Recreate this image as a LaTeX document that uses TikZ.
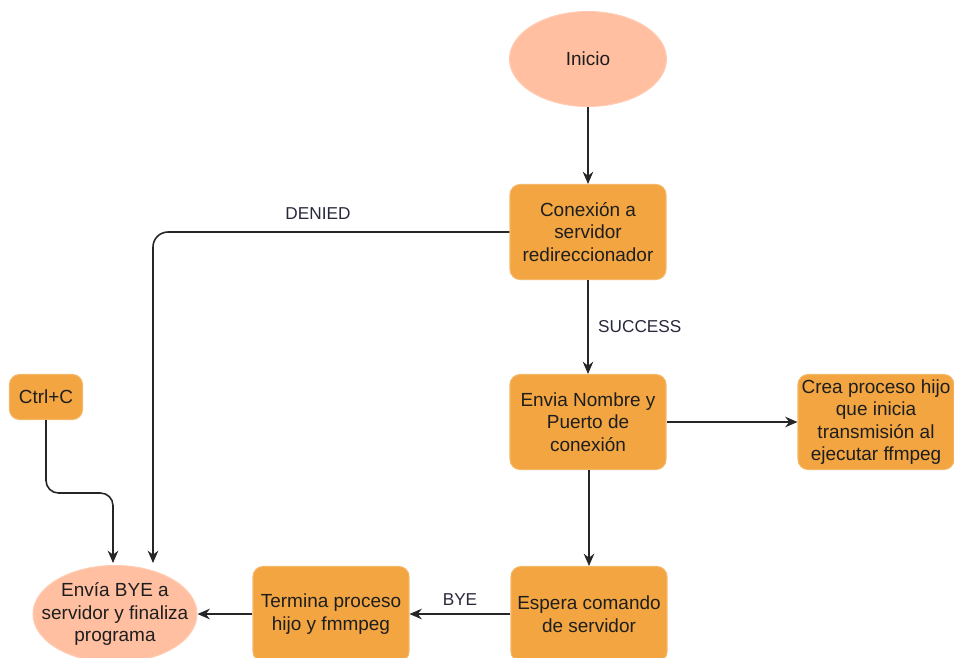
\documentclass[tikz,border=0pt]{standalone}
\usepackage{fontspec}
\setmainfont{Liberation Sans}
\usetikzlibrary{arrows.meta,shapes.geometric}
\definecolor{boxfill}{RGB}{242,165,65}
\definecolor{termfill}{RGB}{255,191,160}
\definecolor{txt}{RGB}{30,30,30}
\definecolor{lbl}{RGB}{40,40,60}
\tikzset{
  stepbox/.style={draw=boxfill!80!white, line width=0.6pt, fill=boxfill, rounded corners=0.2cm,
    minimum width=3.12cm, minimum height=1.9cm, align=center, text=txt,
    font=\fontsize{10.8}{12.8}\selectfont, inner sep=0pt},
  smallbox/.style={stepbox, minimum width=1.46cm, minimum height=0.9cm},
  termnode/.style={ellipse, draw=termfill!80!white, line width=0.6pt, fill=termfill,
    minimum width=3.14cm, minimum height=1.9cm, align=center, text=txt,
    font=\fontsize{10.8}{12.8}\selectfont, inner sep=0pt},
  conn/.style={draw=black!85, line width=0.9pt, -{Stealth[length=7pt,width=6pt]}},
  edgelbl/.style={font=\fontsize{9.8}{11}\selectfont, text=lbl}
}
\begin{document}
\begin{tikzpicture}[x=0.02cm,y=-0.02cm]
\useasboundingbox (0,0) rectangle (954,657);
\clip (0,0) rectangle (954,657);

% nodes
\node[termnode] (inicio) at (588,59) {Inicio};
\node[stepbox] (conex) at (588,232) {Conexión a\\servidor\\redireccionador};
\node[stepbox] (envia) at (588,422) {Envia Nombre y\\Puerto de\\conexión};
\node[stepbox] (crea) at (876,422) {Crea proceso hijo\\que inicia\\transmisión al\\ejecutar ffmpeg};
\node[stepbox] (espera) at (589,614) {Espera comando\\de servidor};
\node[stepbox] (termina) at (331,614) {Termina proceso\\hijo y fmmpeg};
% the text is wider than the ellipse allows, so the side padding is negative
\node[termnode, inner xsep=-9.5pt, inner ysep=-6pt, minimum width=3.28cm, minimum height=1.94cm]
  (bye) at (115,614) {Envía BYE a\\servidor y finaliza\\programa};
\node[smallbox] (ctrlc) at (46,397) {Ctrl+C};

% free ends above the final ellipse
\coordinate (denyend) at (153,563);
\coordinate (ctrlend) at (113,563);

% connectors
\draw[conn] (inicio) -- (conex);
\draw[conn] (conex) -- node[edgelbl, right=2pt, pos=0.5] {SUCCESS} (envia);
\draw[conn, rounded corners=0.3cm] (conex.west) -| (denyend);
\node[edgelbl] (deniedlbl) at (318,214) {DENIED};
\draw[conn] (envia) -- (crea);
\draw[conn] (envia.south -| espera) -- (espera);
\draw[conn] (espera) -- node[edgelbl, above=1pt] {BYE} (termina);
\draw[conn] (termina) -- (bye);
\draw[conn, rounded corners=0.25cm] (ctrlc.south) |- (80,493) -| (ctrlend);
\end{tikzpicture}
\end{document}
